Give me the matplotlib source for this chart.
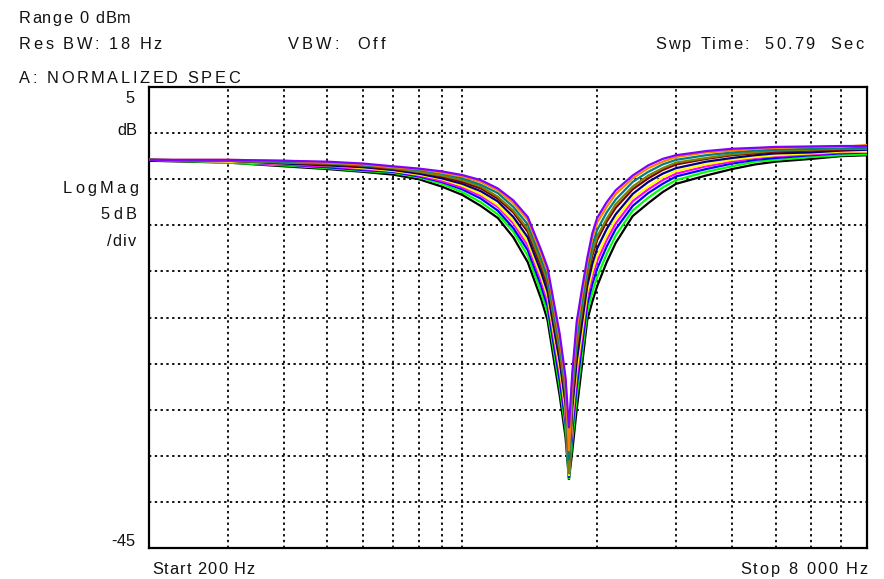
import matplotlib
matplotlib.use("Agg")
import matplotlib.pyplot as plt
from matplotlib.ticker import NullLocator
from matplotlib.font_manager import FontProperties

plt.rcParams['font.family'] = ['Liberation Sans', 'DejaVu Sans']

# Sweep frequencies (Hz)
freq = [200, 300, 400, 500, 600, 700, 800, 900, 1000, 1100, 1200, 1300, 1400,
        1500, 1550, 1600, 1650, 1700, 1730, 1760, 1800, 1850, 1900, 1950, 2000,
        2100, 2200, 2400, 2600, 2800, 3000, 3500, 4000, 4500, 5000, 6000, 7000, 8000]

# Normalized spectrum traces (dB)
purple = [-2.9, -2.9, -3.0, -3.1, -3.3, -3.6, -3.85, -4.15, -4.55, -5.1, -6.0, -7.3, -9.1,
          -12.7, -14.6, -18.3, -21.8, -26.5, -32.0, -26.0, -20.5, -16.9, -13.6, -10.9, -9.2,
          -7.5, -6.2, -4.6, -3.5, -2.8, -2.4, -1.95, -1.7, -1.6, -1.5, -1.45, -1.4, -1.4]
orange = [-2.9, -2.9, -3.0, -3.2, -3.4, -3.7, -3.9, -4.3, -4.7, -5.3, -6.2, -7.6, -9.4,
          -13.1, -15.0, -18.7, -22.3, -27.0, -34.5, -26.6, -21.2, -17.5, -14.1, -11.4, -9.7,
          -8.0, -6.6, -4.9, -3.8, -3.1, -2.6, -2.1, -1.9, -1.7, -1.6, -1.5, -1.5, -1.3]
teal = [-2.9, -3.0, -3.1, -3.2, -3.5, -3.7, -4.0, -4.4, -4.9, -5.6, -6.5, -8.0, -9.9,
        -13.6, -15.6, -19.4, -22.9, -27.6, -35.5, -27.4, -22.1, -18.3, -14.7, -12.2, -10.5,
        -8.6, -7.2, -5.3, -4.2, -3.4, -2.9, -2.4, -2.1, -1.9, -1.8, -1.7, -1.6, -1.6]
olive = [-2.9, -3.0, -3.2, -3.3, -3.5, -3.8, -4.2, -4.6, -5.1, -5.8, -6.9, -8.4, -10.4,
         -14.1, -16.1, -20.0, -23.6, -28.3, -37.0, -28.3, -23.1, -19.1, -15.4, -12.9, -11.2,
         -9.3, -7.7, -5.8, -4.6, -3.8, -3.2, -2.7, -2.3, -2.1, -1.9, -1.8, -1.7, -1.7]
maroon = [-2.9, -3.0, -3.2, -3.4, -3.6, -3.9, -4.2, -4.7, -5.3, -6.0, -7.1, -8.6, -10.7,
          -14.5, -16.5, -20.3, -24.0, -28.6, -35.8, -28.8, -23.6, -19.6, -15.8, -13.3, -11.6,
          -9.6, -8.1, -6.1, -4.9, -4.0, -3.4, -2.8, -2.4, -2.2, -2.0, -1.9, -1.8, -1.7]
navy = [-2.9, -3.0, -3.3, -3.5, -3.7, -4.0, -4.4, -4.9, -5.5, -6.3, -7.4, -9.1, -11.3,
        -15.1, -17.2, -21.1, -24.8, -29.4, -36.5, -29.8, -24.8, -20.6, -16.6, -14.2, -12.5,
        -10.4, -8.8, -6.6, -5.3, -4.4, -3.8, -3.1, -2.7, -2.4, -2.2, -2.1, -1.9, -1.8]
yellow = [-2.9, -3.1, -3.3, -3.5, -3.8, -4.1, -4.5, -5.0, -5.7, -6.6, -7.8, -9.5, -11.8,
          -15.6, -17.7, -21.7, -25.5, -30.1, -37.2, -30.7, -25.7, -21.5, -17.3, -15.0, -13.3,
          -11.1, -9.3, -7.0, -5.8, -4.8, -4.1, -3.4, -2.9, -2.6, -2.4, -2.2, -2.0, -2.0]
magenta = [-2.9, -3.1, -3.4, -3.6, -3.9, -4.1, -4.6, -5.2, -5.9, -6.8, -8.0, -9.8, -12.2,
           -16.0, -18.2, -22.2, -26.0, -30.6, -36.2, -31.4, -26.5, -22.1, -17.8, -15.6, -13.9,
           -11.6, -9.8, -7.4, -6.1, -5.1, -4.4, -3.6, -3.1, -2.7, -2.5, -2.3, -2.1, -2.0]
blue = [-2.9, -3.1, -3.4, -3.7, -4.0, -4.2, -4.7, -5.3, -6.1, -7.1, -8.4, -10.3, -12.7,
        -16.6, -18.8, -22.9, -26.8, -31.3, -37.4, -32.3, -27.5, -23.0, -18.6, -16.4, -14.7,
        -12.3, -10.4, -7.9, -6.5, -5.5, -4.7, -3.9, -3.3, -2.9, -2.7, -2.4, -2.2, -2.1]
green = [-2.9, -3.2, -3.5, -3.8, -4.1, -4.3, -4.8, -5.5, -6.4, -7.5, -8.8, -10.7, -13.3,
         -17.3, -19.5, -23.6, -27.6, -32.1, -37.5, -33.3, -28.7, -24.0, -19.4, -17.3, -15.6,
         -13.1, -11.1, -8.4, -7.0, -5.9, -5.1, -4.2, -3.6, -3.1, -2.9, -2.6, -2.4, -2.3]
black = [-3.0, -3.2, -3.6, -3.9, -4.2, -4.5, -5.0, -5.8, -6.7, -7.9, -9.2, -11.3, -14.0,
         -18.0, -20.3, -24.5, -28.5, -33.0, -37.6, -34.5, -30.0, -25.2, -20.3, -18.3, -16.6,
         -14.0, -11.9, -9.0, -7.6, -6.4, -5.5, -4.6, -3.9, -3.4, -3.1, -2.8, -2.5, -2.4]

traces = [
    (black, '#000000'),
    (green, '#00ff00'),
    (blue, '#0000ff'),
    (magenta, '#ff00ff'),
    (yellow, '#ffff00'),
    (navy, '#000080'),
    (maroon, '#800000'),
    (olive, '#808000'),
    (teal, '#008080'),
    (orange, '#ff8000'),
    (purple, '#8000ff'),
]

x_grid = [300, 400, 500, 600, 700, 800, 900, 1000, 2000, 3000, 4000, 5000, 6000, 7000]
y_grid = [0, -5, -10, -15, -20, -25, -30, -35, -40]

W, H = 884, 579
fig = plt.figure(figsize=(W / 100, H / 100), dpi=100)
fig.patch.set_facecolor('white')

left, right, top, bottom = 149, 867, 87, 548
ax = fig.add_axes([left / W, 1 - bottom / H, (right - left) / W, (bottom - top) / H])
ax.set_xscale('log')
ax.set_xlim(200, 8000)
ax.set_ylim(-45, 5)
ax.xaxis.set_major_locator(NullLocator())
ax.xaxis.set_minor_locator(NullLocator())
ax.yaxis.set_major_locator(NullLocator())
ax.yaxis.set_minor_locator(NullLocator())

for spine in ax.spines.values():
    spine.set_linewidth(1.6)
    spine.set_color('black')

grid_style = dict(color='black', lw=1.3, linestyle=(0, (1.3, 1.9)), zorder=1)
for gx in x_grid:
    ax.axvline(gx, **grid_style)
for gy in y_grid:
    ax.axhline(gy, **grid_style)

for vals, col in traces:
    ax.plot(freq, vals, color=col, lw=1.6, zorder=3, solid_joinstyle='miter')

# Header and annotation text, laid out character by character with tracking
renderer = fig.canvas.get_renderer()
prop = FontProperties(family='Liberation Sans', size=11.8)


def text_w(s):
    if not s:
        return 0.0
    w, _, _ = renderer.get_text_width_height_descent(s, prop, ismath=False)
    return w


def tracked(x0, x1, y, s):
    """Lay out s between x0 and x1 (pixels) on baseline y; right-aligned if it cannot stretch."""
    natural = text_w(s)
    gap = (x1 - x0 - natural) / max(len(s) - 1, 1)
    if gap < 0:
        gap = 0.0
        x0 = x1 - natural
    for i, ch in enumerate(s):
        if ch == ' ':
            continue
        x = x0 + text_w(s[:i]) + i * gap
        fig.text(x / W, 1 - y / H, ch, fontproperties=prop, color='#111111',
                 ha='left', va='baseline')


tracked(19, 131, 23, 'Range 0 dBm')
tracked(19, 162, 49, 'Res BW: 18 Hz')
tracked(288, 385, 49, 'VBW:  Off')
tracked(655, 863, 49, 'Swp Time:  50.79  Sec')
tracked(19, 240, 83, 'A: NORMALIZED SPEC')
tracked(128, 135, 103, '5')
tracked(117, 137, 135, 'dB')
tracked(63, 138, 193, 'LogMag')
tracked(100, 137, 219, '5dB')
tracked(107, 136, 246, '/div')
tracked(114, 135, 546, '-45')
tracked(152, 255, 574, 'Start 200 Hz')
tracked(740, 868, 574, 'Stop 8 000 Hz')

fig.savefig('out.png', dpi=100)
